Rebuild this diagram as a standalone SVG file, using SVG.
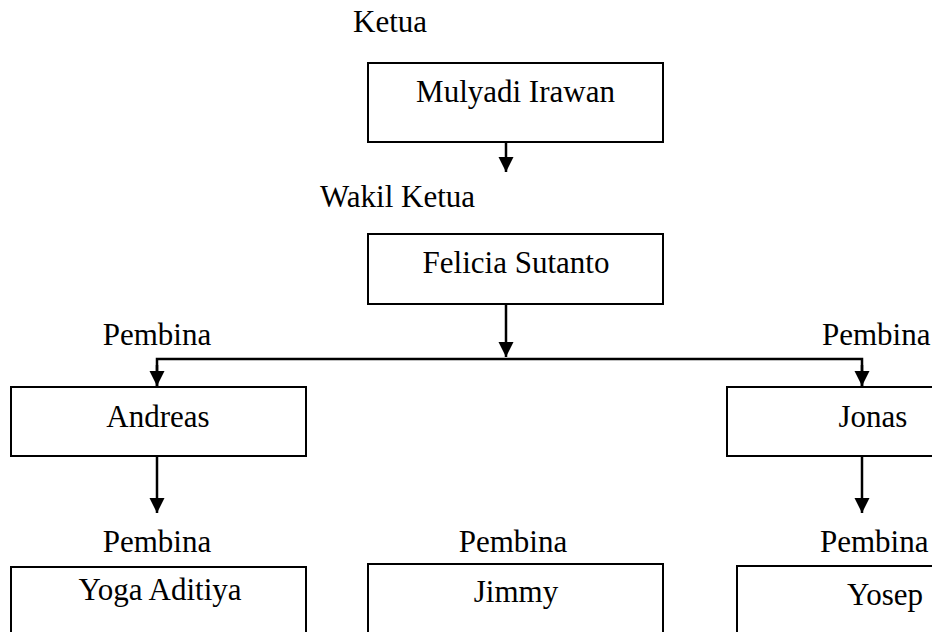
<svg xmlns="http://www.w3.org/2000/svg" width="932" height="632" viewBox="0 0 932 632">
<style>
text{font-family:"Liberation Serif","Times New Roman",serif;font-size:31px;fill:#000}
.box{fill:#fff;stroke:#000;stroke-width:2}
.c{text-anchor:middle}
.ln{fill:none;stroke:#000;stroke-width:2.5}
</style>
<defs>
<marker id="ah" markerUnits="userSpaceOnUse" markerWidth="16" markerHeight="16" refX="15" refY="8" orient="auto">
<path d="M0,0.5 L15,8 L0,15.5 z" fill="#000"/>
</marker>
</defs>
<rect width="932" height="632" fill="#fff"/>
<g id="connectors">
<line class="ln" x1="506" y1="142" x2="506" y2="172" marker-end="url(#ah)"/>
<line class="ln" x1="506" y1="304" x2="506" y2="357" marker-end="url(#ah)"/>
<polyline class="ln" points="157,386 157,359 862,359 862,386" marker-start="none"/>
<line class="ln" x1="157" y1="365" x2="157" y2="386" marker-end="url(#ah)"/>
<line class="ln" x1="862" y1="365" x2="862" y2="386" marker-end="url(#ah)"/>
<line class="ln" x1="157" y1="456" x2="157" y2="513" marker-end="url(#ah)"/>
<line class="ln" x1="862" y1="456" x2="862" y2="513" marker-end="url(#ah)"/>
</g>
<g id="ketua">
<text x="353" y="32">Ketua</text>
<rect class="box" x="368" y="63" width="295" height="79"/>
<text class="c" x="515.5" y="102">Mulyadi Irawan</text>
</g>
<g id="wakil">
<text x="320" y="207">Wakil Ketua</text>
<rect class="box" x="368" y="234" width="295" height="70"/>
<text class="c" x="516" y="273">Felicia Sutanto</text>
</g>
<g id="andreas">
<text class="c" x="157" y="345">Pembina</text>
<rect class="box" x="11" y="387" width="295" height="69"/>
<text class="c" x="158" y="427">Andreas</text>
</g>
<g id="jonas">
<text x="822" y="345">Pembina</text>
<rect class="box" x="727" y="387" width="295" height="69"/>
<text class="c" x="873" y="427">Jonas</text>
</g>
<g id="yoga">
<text class="c" x="157" y="552">Pembina</text>
<rect class="box" x="11" y="567" width="295" height="80"/>
<text class="c" x="160" y="600">Yoga Aditiya</text>
</g>
<g id="jimmy">
<text class="c" x="513" y="552">Pembina</text>
<rect class="box" x="368" y="564" width="295" height="80"/>
<text class="c" x="516" y="602">Jimmy</text>
</g>
<g id="yosep">
<text x="820" y="552">Pembina</text>
<rect class="box" x="737" y="566" width="295" height="80"/>
<text class="c" x="885" y="605">Yosep</text>
</g>
</svg>
